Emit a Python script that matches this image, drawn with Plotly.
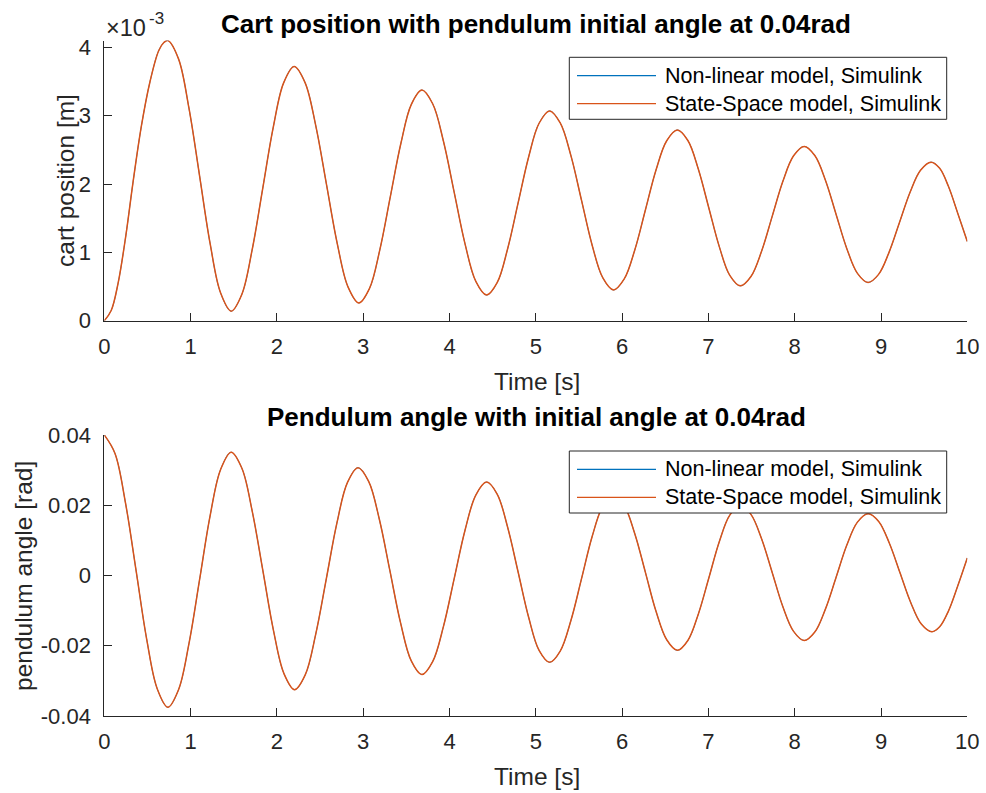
import numpy as np
import plotly.graph_objects as go

# ---------------- data ----------------
# Cart position, values in units of 1e-3 m
t_cart = [0, 0.08, 0.16, 0.25, 0.33, 0.43, 0.53, 0.63, 0.69, 0.737,
          0.859, 0.981, 1.104, 1.226, 1.348, 1.47,
          1.592, 1.713, 1.835, 1.957, 2.078, 2.20,
          2.325, 2.45, 2.575, 2.70, 2.825, 2.95,
          3.072, 3.193, 3.315, 3.437, 3.558, 3.68,
          3.805, 3.93, 4.055, 4.18, 4.305, 4.43,
          4.552, 4.673, 4.795, 4.917, 5.038, 5.16,
          5.283, 5.407, 5.53, 5.653, 5.777, 5.90,
          6.023, 6.147, 6.27, 6.393, 6.517, 6.64,
          6.762, 6.883, 7.005, 7.127, 7.248, 7.37,
          7.493, 7.617, 7.74, 7.863, 7.987, 8.11,
          8.233, 8.357, 8.48, 8.603, 8.727, 8.85,
          8.972, 9.093, 9.215, 9.337, 9.458, 9.58,
          9.68, 9.78, 9.89, 10.0]
cart_e3 = [0, 0.15, 0.55, 1.25, 2.00, 2.85, 3.50, 3.95, 4.07, 4.10,
           3.835, 3.11, 2.12, 1.13, 0.405, 0.14,
           0.38, 1.035, 1.93, 2.825, 3.48, 3.72,
           3.488, 2.855, 1.99, 1.125, 0.492, 0.26,
           0.469, 1.039, 1.818, 2.596, 3.166, 3.375,
           3.174, 2.625, 1.875, 1.125, 0.576, 0.375,
           0.556, 1.049, 1.723, 2.396, 2.889, 3.07,
           2.894, 2.415, 1.76, 1.105, 0.626, 0.45,
           0.607, 1.035, 1.62, 2.205, 2.633, 2.79,
           2.637, 2.22, 1.65, 1.08, 0.663, 0.51,
           0.647, 1.02, 1.53, 2.04, 2.413, 2.55,
           2.417, 2.053, 1.555, 1.058, 0.693, 0.56,
           0.678, 1.0, 1.44, 1.88, 2.202, 2.32,
           2.23, 1.97, 1.57, 1.16]

# Pendulum angle, rad
t_pend = [0, 0.123, 0.246, 0.369, 0.491, 0.614, 0.737,
          0.859, 0.981, 1.104, 1.226, 1.348, 1.47,
          1.593, 1.715, 1.838, 1.96, 2.083, 2.205,
          2.328, 2.45, 2.573, 2.695, 2.818, 2.94,
          3.063, 3.187, 3.31, 3.433, 3.557, 3.68,
          3.805, 3.93, 4.055, 4.18, 4.305, 4.43,
          4.552, 4.673, 4.795, 4.917, 5.038, 5.16,
          5.283, 5.407, 5.53, 5.653, 5.777, 5.90,
          6.023, 6.147, 6.27, 6.393, 6.517, 6.64,
          6.762, 6.883, 7.005, 7.127, 7.248, 7.37,
          7.493, 7.617, 7.74, 7.863, 7.987, 8.11,
          8.233, 8.357, 8.48, 8.603, 8.727, 8.85,
          8.973, 9.097, 9.22, 9.343, 9.467, 9.59,
          9.68, 9.78, 9.89, 10.0]
pend = [0.04, 0.0348, 0.0206, 0.0013, -0.0181, -0.0323, -0.0375,
        -0.0326, -0.0194, -0.0012, 0.0170, 0.0302, 0.0351,
        0.0306, 0.0182, 0.0013, -0.0156, -0.0280, -0.0325,
        -0.0283, -0.0167, -0.0009, 0.0149, 0.0265, 0.0307,
        0.0268, 0.0160, 0.0013, -0.0135, -0.0243, -0.0282,
        -0.0245, -0.0145, -0.0008, 0.0129, 0.0229, 0.0266,
        0.0232, 0.0138, 0.0010, -0.0119, -0.0213, -0.0247,
        -0.0215, -0.0128, -0.0009, 0.0111, 0.0198, 0.0230,
        0.0200, 0.0119, 0.0009, -0.0102, -0.0183, -0.0213,
        -0.0185, -0.0110, -0.0007, 0.0097, 0.0172, 0.0200,
        0.0174, 0.0104, 0.0008, -0.0089, -0.0159, -0.0185,
        -0.0161, -0.0095, -0.0005, 0.0086, 0.0152, 0.0176,
        0.0154, 0.0092, 0.0008, -0.0076, -0.0138, -0.0160,
        -0.0146, -0.0102, -0.0029, 0.0050]

series_names = ["Non-linear model, Simulink", "State-Space model, Simulink"]
series_colors = ["#0072BD", "#D95319"]
series_widths = [0.8, 1.5]

x_ticks = list(range(0, 11))
cart_ticks = [0, 1, 2, 3, 4]
pend_ticks = [-0.04, -0.02, 0, 0.02, 0.04]
pend_ticktext = ["-0.04", "-0.02", "0", "0.02", "0.04"]

titles = ["Cart position with pendulum initial angle at 0.04rad",
          "Pendulum angle with initial angle at 0.04rad"]
x_label = "Time [s]"
y_labels = ["cart position [m]", "pendulum angle [rad]"]
exp_base, exp_power = "×10", "-3"

# ---------------- figure ----------------
W, H = 986, 793
FONT = "Liberation Sans, Arial, Helvetica, sans-serif"
AX = "#262626"
TICK_SIZE = 22
LABEL_SIZE = 24.5
TITLE_SIZE = 26
LEG_SIZE = 21.5

def px(x):
    return x / W

def py(y):
    return 1 - y / H

cart = np.array(cart_e3) * 1e-3

fig = go.Figure()
for name, col, lw in zip(series_names, series_colors, series_widths):
    fig.add_trace(go.Scatter(x=t_cart, y=cart, mode="lines", name=name,
                             line=dict(color=col, width=lw, shape="spline",
                                       smoothing=1.0, simplify=False),
                             xaxis="x", yaxis="y", showlegend=False))
for name, col, lw in zip(series_names, series_colors, series_widths):
    fig.add_trace(go.Scatter(x=t_pend, y=pend, mode="lines", name=name,
                             line=dict(color=col, width=lw, shape="spline",
                                       smoothing=1.0, simplify=False),
                             xaxis="x2", yaxis="y2", showlegend=False))

xdom = [px(104.3), px(967.3)]
common_x = dict(domain=xdom, range=[0, 10], tickvals=x_ticks, ticks="inside",
                ticklen=8, tickcolor=AX, showline=True, linecolor=AX,
                linewidth=1, showgrid=False, zeroline=False, automargin=False,
                tickfont=dict(family=FONT, size=TICK_SIZE, color=AX),
                ticklabelstandoff=6)
common_y = dict(ticks="inside", ticklen=8, tickcolor=AX, showline=True,
                linecolor=AX, linewidth=1, showgrid=False, zeroline=False,
                automargin=False,
                tickfont=dict(family=FONT, size=TICK_SIZE, color=AX),
                ticklabelstandoff=8)

fig.update_layout(
    width=W, height=H, autosize=False,
    margin=dict(l=0, r=0, t=0, b=0),
    paper_bgcolor="white", plot_bgcolor="white",
    showlegend=False,
    xaxis=dict(anchor="y", **common_x),
    yaxis=dict(anchor="x", domain=[py(320.7), py(40.5)], range=[0, 0.0041],
               tickvals=[v * 1e-3 for v in cart_ticks],
               ticktext=[str(v) for v in cart_ticks], **common_y),
    xaxis2=dict(anchor="y2", **common_x),
    yaxis2=dict(anchor="x2", domain=[py(716), py(435)], range=[-0.04, 0.04],
                tickvals=pend_ticks, ticktext=pend_ticktext, **common_y),
)

ann = []
# titles
ann.append(dict(text="<b>%s</b>" % titles[0], x=px(536), y=py(24),
                font=dict(family=FONT, size=TITLE_SIZE, color="black")))
ann.append(dict(text="<b>%s</b>" % titles[1], x=px(536), y=py(417),
                font=dict(family=FONT, size=TITLE_SIZE, color="black")))
# x labels
ann.append(dict(text=x_label, x=px(537), y=py(381),
                font=dict(family=FONT, size=LABEL_SIZE, color=AX)))
ann.append(dict(text=x_label, x=px(537), y=py(776),
                font=dict(family=FONT, size=LABEL_SIZE, color=AX)))
# y labels
ann.append(dict(text=y_labels[0], x=px(65), y=py(181), textangle=-90,
                font=dict(family=FONT, size=LABEL_SIZE, color=AX)))
ann.append(dict(text=y_labels[1], x=px(23), y=py(576), textangle=-90,
                font=dict(family=FONT, size=LABEL_SIZE, color=AX)))
# exponent (x10^-3)
ann.append(dict(text=exp_base, x=px(104), y=py(28), xanchor="left",
                font=dict(family=FONT, size=23.5, color=AX)))
ann.append(dict(text=exp_power, x=px(146.5), y=py(18.5), xanchor="left",
                font=dict(family=FONT, size=17, color=AX)))

shapes = []
# manual legends (box + line samples + labels)
for top in (57.3, 451.0):
    shapes.append(dict(type="rect", xref="paper", yref="paper",
                       x0=px(569.3), x1=px(946.7), y0=py(top + 62), y1=py(top),
                       fillcolor="white", line=dict(color=AX, width=1),
                       layer="above"))
    for i, (name, col) in enumerate(zip(series_names, series_colors)):
        yc = top + 18.4 + 28 * i
        shapes.append(dict(type="line", xref="paper", yref="paper",
                           x0=px(577), x1=px(656), y0=py(yc), y1=py(yc),
                           line=dict(color=col, width=1.3), layer="above"))
        ann.append(dict(text=name, x=px(662.7), y=py(yc), xanchor="left",
                        font=dict(family=FONT, size=LEG_SIZE, color="black")))

for a in ann:
    a.setdefault("xref", "paper")
    a.setdefault("yref", "paper")
    a.setdefault("showarrow", False)
    a.setdefault("xanchor", "center")
    a.setdefault("yanchor", "middle")

fig.update_layout(annotations=ann, shapes=shapes)
fig.write_html("out.html")
